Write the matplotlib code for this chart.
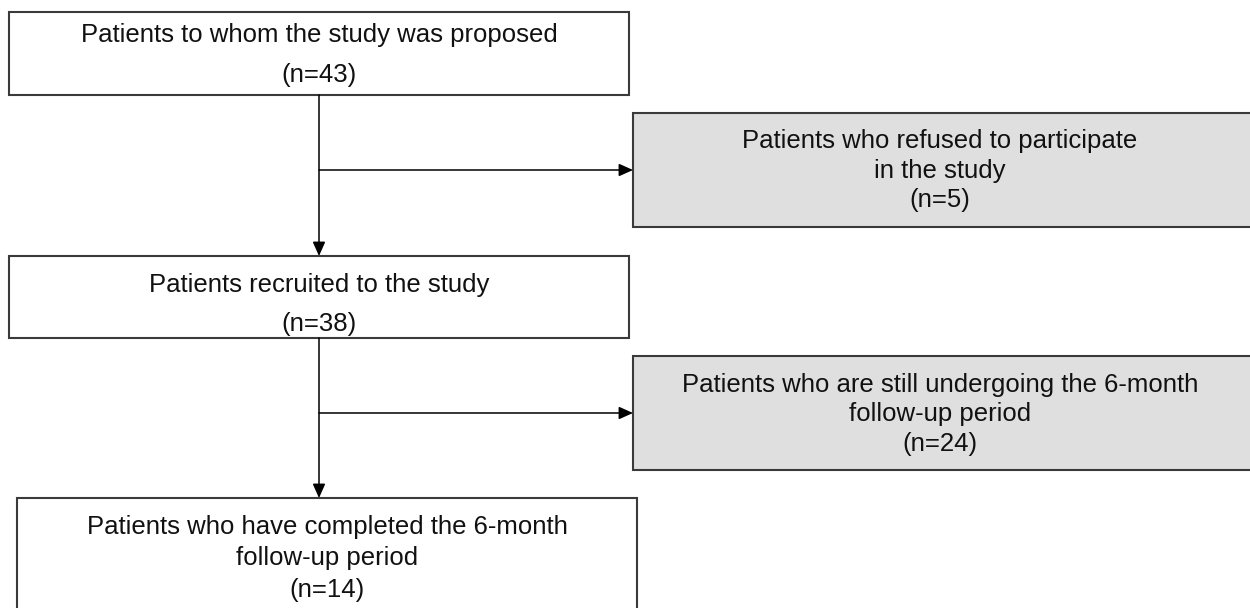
import matplotlib
matplotlib.use('Agg')
import matplotlib.pyplot as plt
from matplotlib.patches import Rectangle

plt.rcParams['font.family'] = ['Liberation Sans', 'DejaVu Sans']

# flowchart content
labels = [['Patients to whom the study was proposed'],
          ['Patients who refused to participate', 'in the study'],
          ['Patients recruited to the study'],
          ['Patients who are still undergoing the 6-month', 'follow-up period'],
          ['Patients who have completed the 6-month', 'follow-up period']]
counts = [43, 5, 38, 24, 14]
excluded = [False, True, False, True, False]

# box layout in pixels: left, top, right, bottom
boxes = [(9, 12, 629, 95),
         (633, 113, 1256, 227),
         (9, 256, 629, 338),
         (633, 356, 1256, 470),
         (17, 498, 637, 615)]
text_x = [319, 940, 319, 940, 327]
# baseline of each text line (last one is the n= line)
baselines = [[42, 82], [148, 178, 207], [292, 331], [392, 421, 451], [534, 565, 597]]

fig = plt.figure(figsize=(12.5, 6.08), dpi=100)
ax = fig.add_axes([0, 0, 1, 1])
ax.set_xlim(0, 1250)
ax.set_ylim(608, 0)
ax.axis('off')

for i in range(len(boxes)):
    l, t, r, b = boxes[i]
    ax.add_patch(Rectangle((l, t), r - l, b - t,
                           facecolor='#dfdfdf' if excluded[i] else 'white',
                           edgecolor='#3a3a3a', lw=1.5, zorder=2))
    lines = labels[i] + ['(n=%d)' % counts[i]]
    for txt, y in zip(lines, baselines[i]):
        ax.text(text_x[i], y, txt, ha='center', va='baseline',
                fontsize=18.5, color='#111111', zorder=3)

xm = 319
arr = dict(arrowstyle='-|>,head_length=0.85,head_width=0.38', color='black', lw=1.1,
           shrinkA=0, shrinkB=0)
# main trunk
ax.annotate('', xy=(xm, 256), xytext=(xm, 95), arrowprops=arr)
ax.annotate('', xy=(xm, 498), xytext=(xm, 338), arrowprops=arr)
# side branches
ax.annotate('', xy=(633, 170), xytext=(xm, 170), arrowprops=arr)
ax.annotate('', xy=(633, 413), xytext=(xm, 413), arrowprops=arr)

fig.savefig('out.png', dpi=100)
